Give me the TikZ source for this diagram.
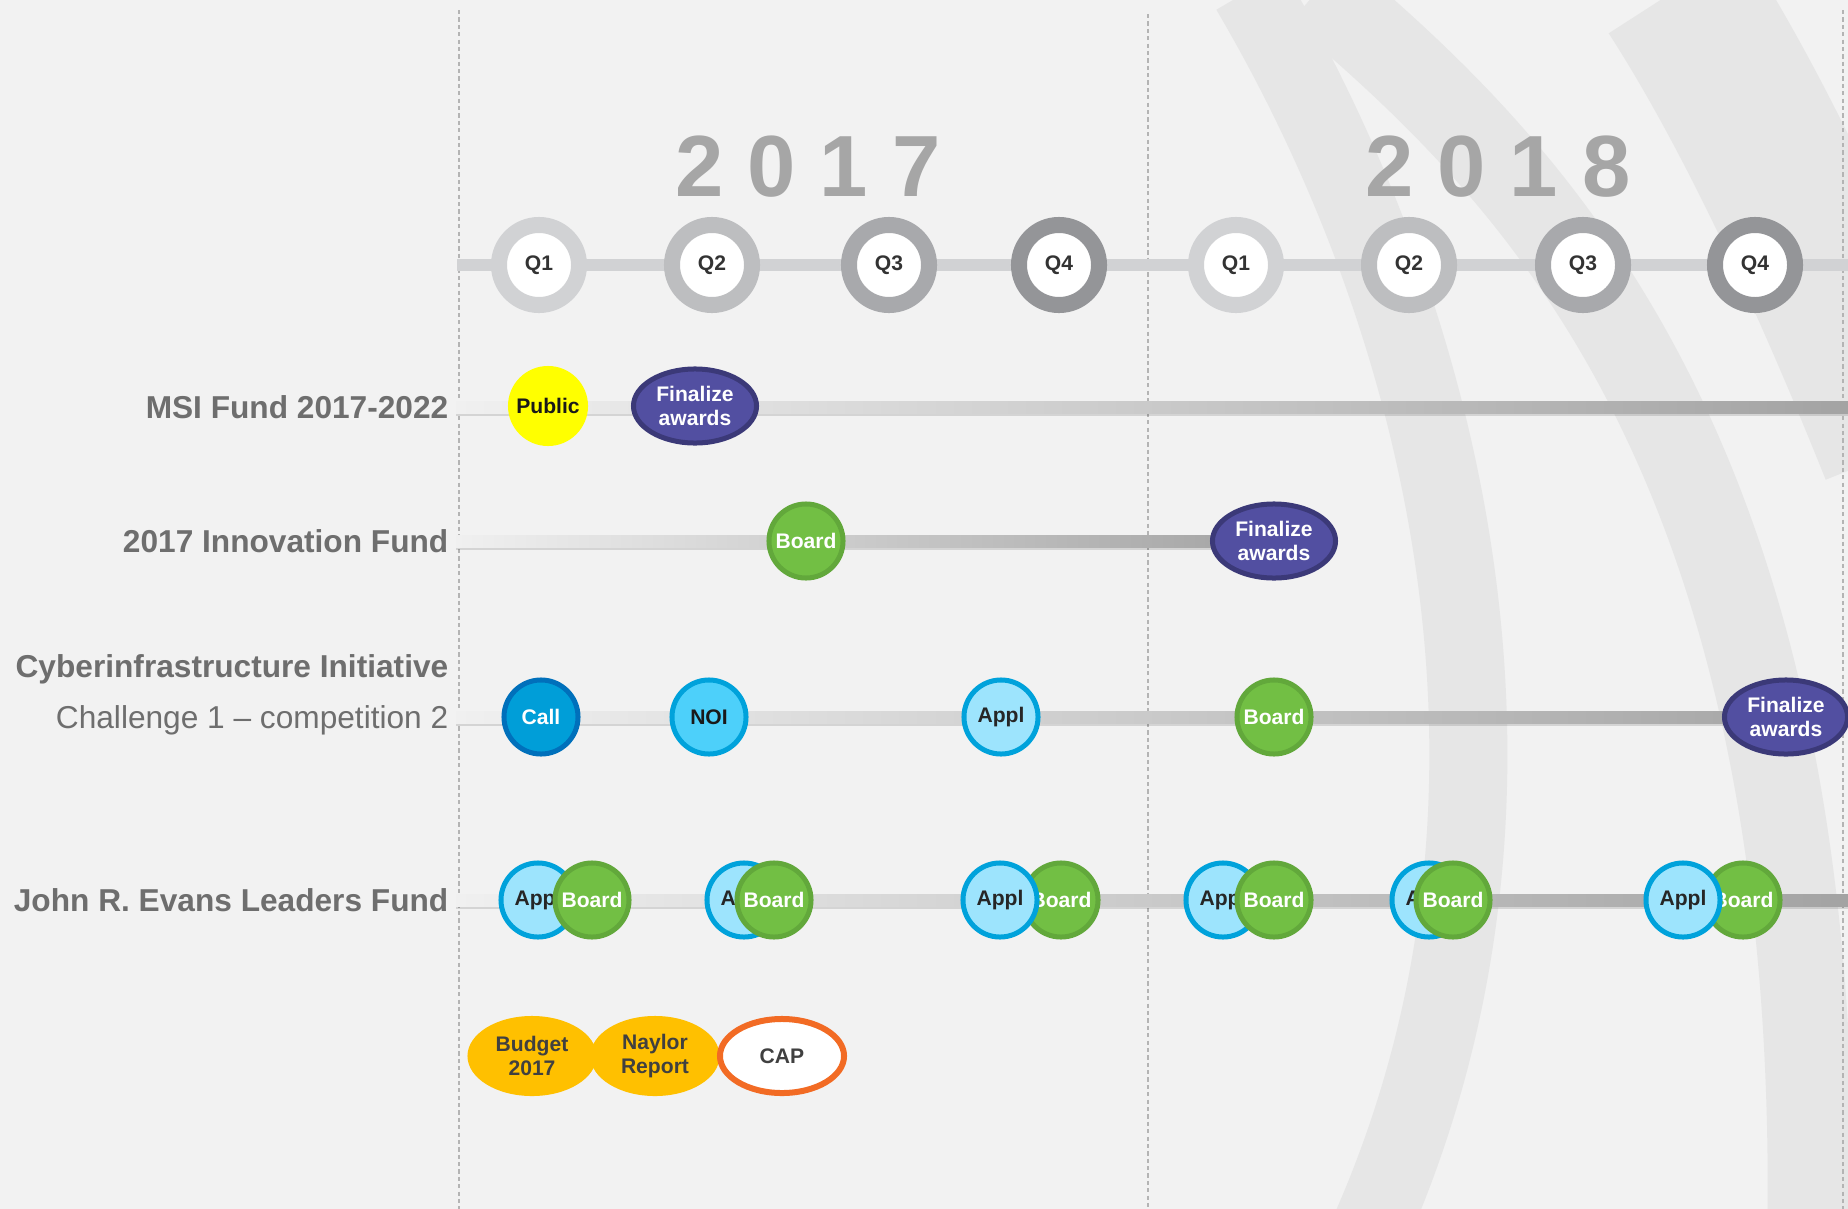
\documentclass[tikz,border=0pt]{standalone}
\usepackage{fontspec}
\setmainfont{Liberation Sans}
\usetikzlibrary{shapes.geometric}
\definecolor{cFondo}{HTML}{F2F2F2}
\definecolor{cArco}{HTML}{E6E6E6}
\definecolor{cGuia}{HTML}{B4B4B4}
\definecolor{cLabel}{HTML}{6E6E6E}
\definecolor{cAnio}{HTML}{A6A6A6}
\definecolor{cQ}{HTML}{333333}
\definecolor{cQa}{HTML}{D1D2D4}
\definecolor{cQb}{HTML}{BDBEC0}
\definecolor{cQc}{HTML}{A8A9AC}
\definecolor{cQd}{HTML}{949598}
\definecolor{cLinea}{HTML}{D1D2D4}
\definecolor{cBarL}{HTML}{F0F0F0}
\definecolor{cBarR}{HTML}{A3A3A3}
\definecolor{cPublic}{HTML}{FFFF00}
\definecolor{cFin}{HTML}{524FA1}
\definecolor{cFinB}{HTML}{3B3978}
\definecolor{cBoard}{HTML}{72BF44}
\definecolor{cBoardB}{HTML}{62A83B}
\definecolor{cCall}{HTML}{009ED8}
\definecolor{cCallB}{HTML}{0070BB}
\definecolor{cNoi}{HTML}{4DD0FA}
\definecolor{cAppl}{HTML}{9DE4FD}
\definecolor{cApplB}{HTML}{00A2DB}
\definecolor{cOro}{HTML}{FFC000}
\definecolor{cNaranja}{HTML}{F26B24}
\definecolor{cTexto}{HTML}{404040}
\begin{document}
\begin{tikzpicture}[x=0.01cm,y=-0.01cm,
  etiqueta/.style={anchor=base east,inner sep=0pt,text=cLabel,font=\fontsize{9}{11}\selectfont\bfseries},
  subetiqueta/.style={anchor=base east,inner sep=0pt,text=cLabel,font=\fontsize{9}{11}\selectfont},
  anio/.style={anchor=base,text=cAnio,font=\fontsize{24.7}{28}\selectfont\bfseries},
  trim/.style={circle,minimum size=0.8cm,inner sep=0pt,line width=0.16cm,fill=white,text=cQ,font=\fontsize{6}{7}\selectfont\bfseries},
  hito/.style={ellipse,minimum width=0.74cm,minimum height=0.74cm,inner xsep=-0.12cm,inner ysep=0pt,line width=0.05cm,align=center,font=\fontsize{6}{7}\selectfont\bfseries},
  largo/.style={minimum width=1.23cm},
  publico/.style={hito,fill=cPublic,minimum width=0.8cm,minimum height=0.8cm,text=black!90},
  final/.style={hito,largo,fill=cFin,draw=cFinB,text=white},
  junta/.style={hito,fill=cBoard,draw=cBoardB,text=white},
  convoca/.style={hito,fill=cCall,draw=cCallB,text=white},
  aviso/.style={hito,fill=cNoi,draw=cApplB,text=black!90},
  solicitud/.style={hito,fill=cAppl,draw=cApplB,text=black!85},
  dorado/.style={hito,fill=cOro,minimum width=1.29cm,minimum height=0.8cm,text=cTexto},
  marco/.style={hito,fill=white,draw=cNaranja,line width=0.06cm,minimum width=1.24cm,minimum height=0.74cm,text=cTexto},
  barra/.style={left color=cBarL,right color=cBarR},
  sombra/.style={fill=black,opacity=0.12},
  arco/.style={draw=cArco,line width=0.78cm},
  guia/.style={draw=cGuia,line width=0.4pt,dash pattern=on 1.2pt off 0.9pt},
]
% Fondo
\useasboundingbox (0,0) rectangle (1848,1209);
\clip (0,0) rectangle (1848,1209);
\fill[cFondo] (0,0) rectangle (1848,1209);
\draw[arco] (1250,-10) .. controls (1450,330) and (1560,800) .. (1370,1230);
\draw[arco,line width=0.85cm] (1318,-10) .. controls (1530,170) and (1820,450) .. (1810,1230);
\draw[arco,line width=1.6cm] (1676,-10) .. controls (1760,120) and (1840,300) .. (1900,450);
% Guias
\draw[guia] (459,10) -- (459,1209);
\draw[guia] (1148,14) -- (1148,1209);
\draw[guia] (1843,10) -- (1843,1209);
% Anios
\node[anio] (a2017) at (808,196) {2 0 1 7};
\node[anio] (a2018) at (1498,196) {2 0 1 8};
% Trimestres
\coordinate (qIni) at (457,265);
\coordinate (qFin) at (1848,265);
\draw[cLinea,line width=0.12cm] (qIni) -- (qFin);
\node[trim,draw=cQa] (q1a) at (539,265) {Q1};
\node[trim,draw=cQb] (q2a) at (712,265) {Q2};
\node[trim,draw=cQc] (q3a) at (889,265) {Q3};
\node[trim,draw=cQd] (q4a) at (1059,265) {Q4};
\node[trim,draw=cQa] (q1b) at (1236,265) {Q1};
\node[trim,draw=cQb] (q2b) at (1409,265) {Q2};
\node[trim,draw=cQc] (q3b) at (1583,265) {Q3};
\node[trim,draw=cQd] (q4b) at (1755,265) {Q4};
% Etiquetas
\node[etiqueta] (lMsi) at (449,418.5) {MSI Fund 2017-2022};
\node[etiqueta] (lInno) at (449,552.5) {2017 Innovation Fund};
\node[etiqueta] (lCyber) at (449,677.5) {Cyberinfrastructure Initiative};
\node[subetiqueta] (lChal) at (449,728) {Challenge 1 -- competition 2};
\node[etiqueta] (lJelf) at (449,911.5) {John R. Evans Leaders Fund};
% Barras
\coordinate (msiIni) at (456,407);
\coordinate (msiFin) at (1848,407);
\coordinate (innoIni) at (456,541);
\coordinate (innoFin) at (1274,541);
\coordinate (cyIni) at (456,717);
\coordinate (cyFin) at (1848,717);
\coordinate (jeIni) at (456,900);
\coordinate (jeFin) at (1848,900);
\fill[sombra] ([yshift=-0.03cm]msiIni) rectangle ([yshift=-0.09cm]msiFin);
\shade[barra] ([yshift=0.06cm]msiIni) rectangle ([yshift=-0.06cm]msiFin);
\fill[sombra] ([yshift=-0.03cm]innoIni) rectangle ([yshift=-0.09cm]innoFin);
\shade[barra] ([yshift=0.06cm]innoIni) rectangle ([yshift=-0.06cm]innoFin);
\fill[sombra] ([yshift=-0.03cm]cyIni) rectangle ([yshift=-0.09cm]cyFin);
\shade[barra] ([yshift=0.06cm]cyIni) rectangle ([yshift=-0.06cm]cyFin);
\fill[sombra] ([yshift=-0.03cm]jeIni) rectangle ([yshift=-0.09cm]jeFin);
\shade[barra] ([yshift=0.06cm]jeIni) rectangle ([yshift=-0.06cm]jeFin);
% MSI
\node[publico] (msiPub) at (548,406) {Public};
\node[final] (msiAw) at (695,406) {Finalize\\awards};
% Innovation
\node[junta] (inBoard) at (806,541) {Board};
\node[final] (inAw) at (innoFin) {Finalize\\awards};
% Cyber
\node[convoca] (cyCall) at (541,717) {Call};
\node[aviso] (cyNoi) at (709,717) {NOI};
\node[solicitud] (cyAppl) at (1001,717) {Appl};
\node[junta] (cyBoard) at (1274,717) {Board};
\node[final] (cyAw) at (1786,717) {Finalize\\awards};
% JELF
\node[solicitud] (jeA1) at (538,900) {Appl};
\node[junta] (jeB1) at (592,900) {Board};
\node[solicitud] (jeA2) at (744,900) {Appl};
\node[junta] (jeB2) at (774,900) {Board};
\node[junta] (jeB3) at (1061,900) {Board};
\node[solicitud] (jeA3) at (1000,900) {Appl};
\node[solicitud] (jeA4) at (1223,900) {Appl};
\node[junta] (jeB4) at (1274,900) {Board};
\node[solicitud] (jeA5) at (1429,900) {Appl};
\node[junta] (jeB5) at (1453,900) {Board};
\node[junta] (jeB6) at (1743,900) {Board};
\node[solicitud] (jeA6) at (1683,900) {Appl};
% Contexto
\node[dorado] (budget) at (532,1056) {Budget\\2017};
\node[dorado] (naylor) at (655,1056) {Naylor\\Report};
\node[marco] (cap) at (782,1056) {CAP};
\end{tikzpicture}
\end{document}
